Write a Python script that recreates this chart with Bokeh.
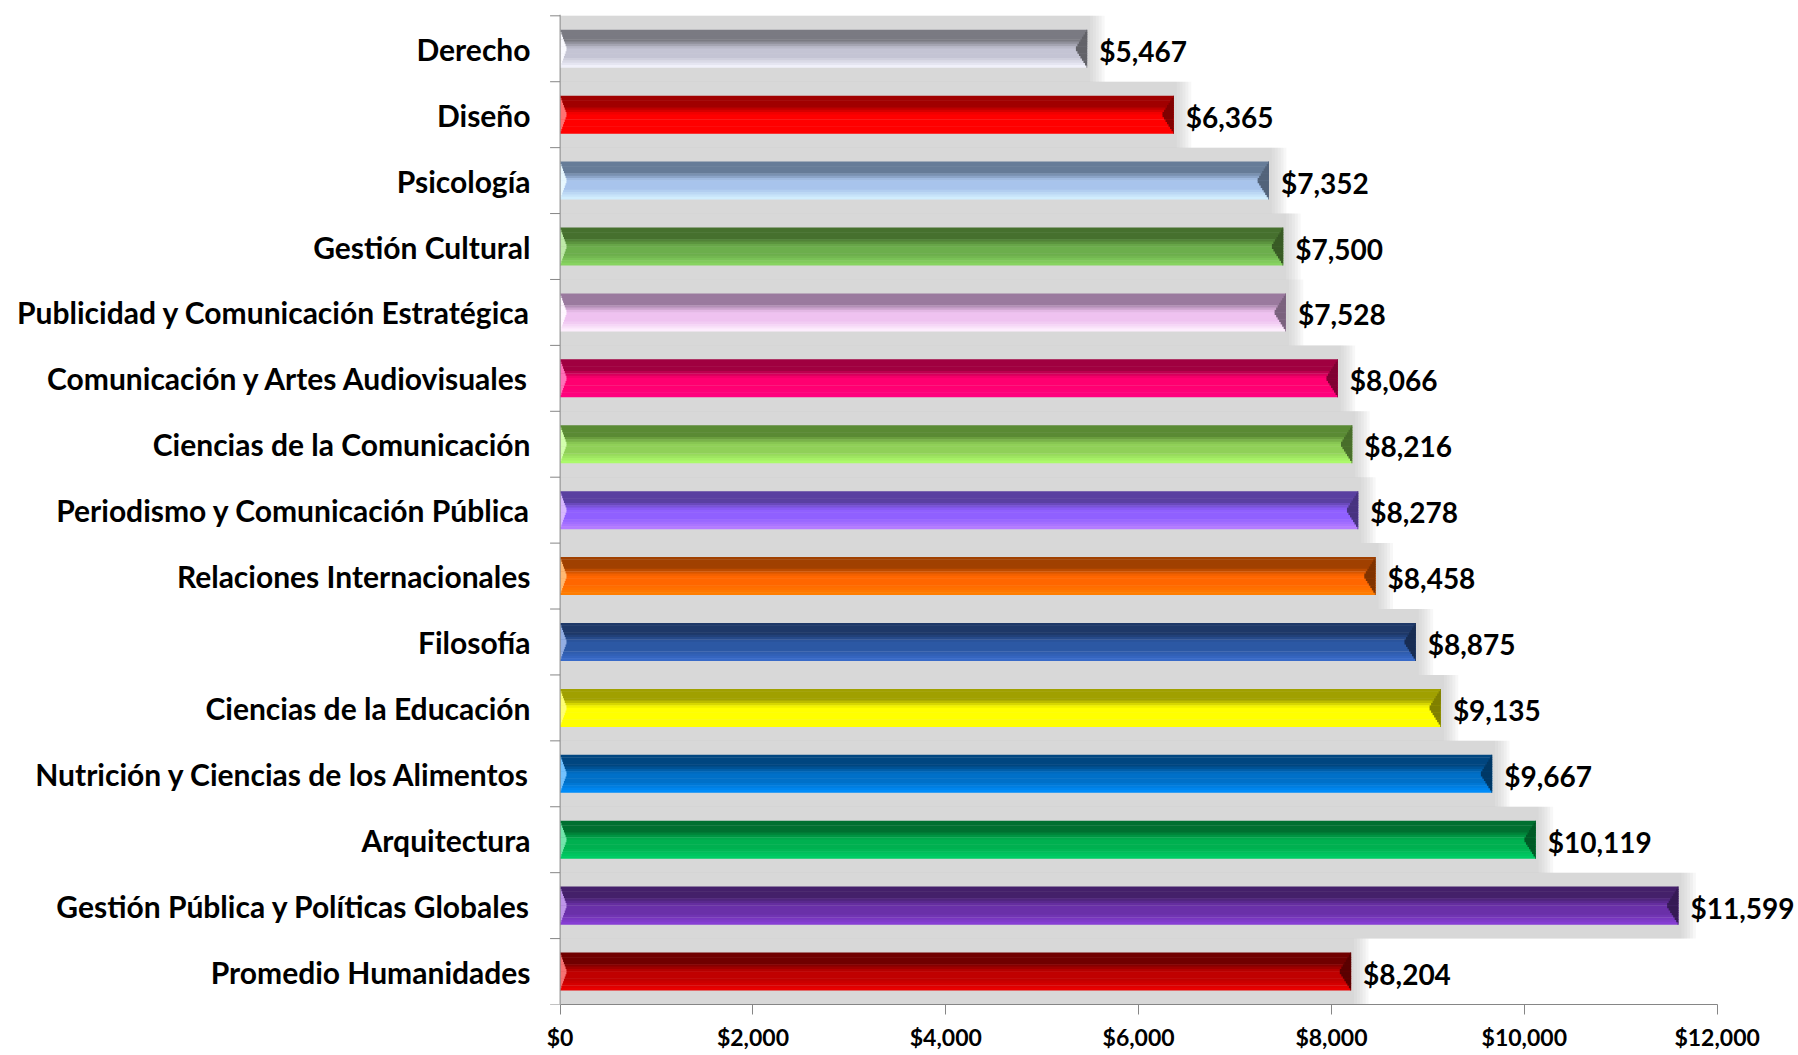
from bokeh.plotting import figure
from bokeh.models import (Range1d, LinearAxis, FixedTicker, Span,
                          NumeralTickFormatter, ColumnDataSource, LabelSet)
from bokeh.core.properties import value
from bokeh.transform import dodge
from bokeh.embed import file_html
from bokeh.resources import INLINE

# ---------------- data (top to bottom, as in the chart) ----------------
categories = ["Derecho", "Diseño", "Psicología", "Gestión Cultural",
              "Publicidad y Comunicación Estratégica", "Comunicación y Artes Audiovisuales",
              "Ciencias de la Comunicación", "Periodismo y Comunicación Pública",
              "Relaciones Internacionales", "Filosofía", "Ciencias de la Educación",
              "Nutrición y Ciencias de los Alimentos", "Arquitectura",
              "Gestión Pública y Políticas Globales", "Promedio Humanidades"]
values = [5467, 6365, 7352, 7500, 7528, 8066, 8216, 8278, 8458, 8875, 9135, 9667,
          10119, 11599, 8204]
x_ticks = [0, 2000, 4000, 6000, 8000, 10000, 12000]

# ---------------- style: (dark top, mid, light bottom) per bar ----------------
palette = [
    ("#7a7a82", "#c4c4d4", "#f6f6ff"),
    ("#a00000", "#ff0000", "#ff0000"),
    ("#667c98", "#a8c4ec", "#d6f2ff"),
    ("#46702e", "#6cae4c", "#8ad862"),
    ("#9a7a9e", "#efc2f0", "#fff2ff"),
    ("#a00040", "#ff0070", "#ff0080"),
    ("#5a8a34", "#90d058", "#b0ff6c"),
    ("#5a40a0", "#9060ff", "#b880ff"),
    ("#a04000", "#ff6600", "#ff8000"),
    ("#1e3868", "#2c58a4", "#3a6ccc"),
    ("#a0a000", "#ffff00", "#ffff00"),
    ("#004680", "#0070c8", "#0090ff"),
    ("#007030", "#00b050", "#00d068"),
    ("#44206a", "#6a30a8", "#8a40d8"),
    ("#700000", "#c00000", "#ee0000"),
]

FONT = "Lato"
AXIS_GRAY = "#868686"


def hx(c):
    return tuple(int(c[i:i + 2], 16) for i in (1, 3, 5))


def tohex(t):
    return "#%02x%02x%02x" % tuple(max(0, min(255, int(round(v)))) for v in t)


def lerp(a, b, f):
    a, b = hx(a), hx(b)
    return tohex(tuple(a[i] + (b[i] - a[i]) * f for i in range(3)))


def shade(t, dark, mid, light):
    if t < 0.28:
        return dark
    if t < 0.5:
        return lerp(dark, mid, (t - 0.28) / 0.22)
    if t < 0.72:
        return mid
    return lerp(mid, light, (t - 0.72) / 0.28)


n = len(categories)
ypos = [n - i - 0.5 for i in range(n)]   # category slots, first one on top
src = {"y": ypos, "val": values,
       "label": ["${:,}".format(v) for v in values]}

N = 16
BAR_H = 0.57
h = BAR_H / N
for k in range(N):
    t = (k + 0.5) / N
    src["c%d" % k] = [shade(t, d, m, l) for (d, m, l) in palette]
src["wedge"] = [lerp(d, "#000000", 0.2) for (d, m, l) in palette]
src["lwedge"] = [lerp(l, "#ffffff", 0.45) for (d, m, l) in palette]
source = ColumnDataSource(src)

# x from a small negative margin (room for the outward y ticks) to past 12,000 (room for labels)
p = figure(width=1798, height=1053, y_range=Range1d(0, n + 0.02),
           x_range=Range1d(-110, 12844), output_backend="svg", toolbar_location=None,
           y_axis_location=None, x_axis_location=None,
           min_border_left=549, min_border_right=0, min_border_top=14, min_border_bottom=0)
p.outline_line_color = None
p.xgrid.visible = False
p.ygrid.visible = False
p.background_fill_color = "white"

# soft gray glow behind each bar
for ext in (180, 150, 120, 90, 60, 30):
    p.hbar(y="y", height=1.0, left=0, right=dodge("val", ext), source=source,
           fill_color="#b0b0b0", fill_alpha=0.1, line_color=None)

# beveled bar built from horizontal stripes
for k in range(N):
    off = BAR_H / 2 - (k + 0.5) * h
    p.hbar(y=dodge("y", off), height=h * 1.2, left=0, right="val",
           source=source, fill_color="c%d" % k, line_color=None)

# end bevels
for k in range(N):
    t = (k + 0.5) / N
    off = BAR_H / 2 - (k + 0.5) * h
    fr = 1 - abs(2 * t - 1)
    p.hbar(y=dodge("y", off), height=h * 1.2,
           left=dodge("val", -125 * fr), right="val",
           source=source, fill_color="wedge", line_color=None)
    p.hbar(y=dodge("y", off), height=h * 1.2,
           left=0, right=70 * fr,
           source=source, fill_color="lwedge", line_color=None)

labels = LabelSet(x="val", y="y", text="label", source=source, x_offset=12, y_offset=-2,
                  text_baseline="middle", text_align="left", text_font=value(FONT),
                  text_font_style="bold", text_font_size="28px", text_color="#000000")
p.add_layout(labels)

# y axis line at x = 0 and outward tick marks at the slot boundaries
p.add_layout(Span(location=0, dimension="height", line_color=AXIS_GRAY, line_width=1))
bounds = list(range(n + 1))
p.segment(x0=[-104] * len(bounds), x1=[0] * len(bounds), y0=bounds, y1=bounds,
          line_color=AXIS_GRAY, line_width=1)

cat_axis = LinearAxis(ticker=FixedTicker(ticks=ypos),
                      major_label_overrides={y: c for y, c in zip(ypos, categories)},
                      axis_line_color=None, major_tick_line_color=None, minor_tick_line_color=None,
                      major_tick_in=0, major_tick_out=0, major_label_standoff=19,
                      major_label_text_font=FONT, major_label_text_font_style="bold",
                      major_label_text_font_size="30px", major_label_text_color="#000000")
p.add_layout(cat_axis, "left")

x_axis = LinearAxis(ticker=FixedTicker(ticks=x_ticks), bounds=(0, 12000),
                    formatter=NumeralTickFormatter(format="$0,0"),
                    major_tick_in=0, major_tick_out=10, minor_tick_line_color=None,
                    axis_line_color=AXIS_GRAY, major_tick_line_color=AXIS_GRAY,
                    major_label_standoff=8, major_label_text_font=FONT,
                    major_label_text_font_style="bold", major_label_text_font_size="23px",
                    major_label_text_color="#000000")
p.add_layout(x_axis, "below")

open("out.html", "w").write(file_html(p, INLINE))
